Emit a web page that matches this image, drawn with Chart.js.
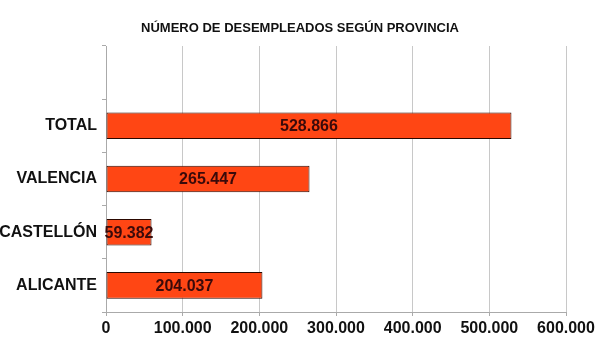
<!DOCTYPE html>
<html><head><meta charset="utf-8">
<script src="https://cdn.jsdelivr.net/npm/chart.js@4/dist/chart.umd.min.js"></script>
<style>html,body{margin:0;padding:0;background:#fff}#wrap{width:600px;height:356px}</style>
</head><body><div id="wrap"><canvas id="c" width="600" height="356"></canvas></div>
<script>
const titleText = 'NÚMERO DE DESEMPLEADOS SEGÚN PROVINCIA';
const categories = ['', 'TOTAL', 'VALENCIA', 'CASTELLÓN', 'ALICANTE'];
const desempleados = [null, 528866, 265447, 59382, 204037];
const xTicks = [0, 100000, 200000, 300000, 400000, 500000, 600000];

function fmt(v){ return String(v).replace(/\B(?=(\d{3})+(?!\d))/g, '.'); }

const FONT = '"Liberation Sans", Arial, sans-serif';

const labelPlugin = {
  id: 'labels',
  afterDatasetsDraw(chart){
    const ctx = chart.ctx;
    const meta = chart.getDatasetMeta(0);
    ctx.save();
    ctx.font = 'bold 16px ' + FONT;
    ctx.fillStyle = '#3a0a0a';
    ctx.textAlign = 'center';
    ctx.textBaseline = 'middle';
    meta.data.forEach((bar, i) => {
      const v = desempleados[i];
      if (v == null) return;
      ctx.fillText(fmt(v), (bar.base + bar.x) / 2, bar.y + 1);
    });
    ctx.restore();
  },
  afterDraw(chart){
    const ctx = chart.ctx;
    ctx.save();
    ctx.font = 'bold 13px ' + FONT;
    ctx.fillStyle = '#111';
    ctx.textAlign = 'center';
    ctx.textBaseline = 'middle';
    ctx.fillText(titleText, 300, 28);
    ctx.restore();
  }
};

new Chart(document.getElementById('c'), {
  type: 'bar',
  data: {
    labels: categories,
    datasets: [{
      data: desempleados,
      backgroundColor: '#ff4614',
      borderColor: '#2a0800',
      borderWidth: 1,
      borderSkipped: false,
      categoryPercentage: 1,
      barPercentage: 0.5
    }]
  },
  options: {
    indexAxis: 'y',
    responsive: false,
    animation: false,
    layout: { padding: { top: 46, right: 34, left: 0, bottom: 0 } },
    plugins: { legend: { display: false }, tooltip: { enabled: false }, title: { display: false } },
    scales: {
      x: {
        min: 0, max: 600000,
        afterBuildTicks(s){ s.ticks = xTicks.map(v => ({ value: v })); },
        afterFit(s){ s.height = 44; },
        grid: { color: '#c8c8c8', tickLength: 4, tickColor: '#aaa' },
        border: { color: '#aaa' },
        ticks: { callback: v => fmt(v), color: '#111', padding: 3, maxRotation: 0, autoSkip: false,
                 font: { family: FONT, size: 16, weight: 'bold' } }
      },
      y: {
        afterFit(s){ s.width = 106; },
        grid: { drawOnChartArea: false, tickLength: 4, color: '#aaa', offset: true },
        border: { color: '#aaa' },
        ticks: { color: '#111', padding: 5, font: { family: FONT, size: 16, weight: 'bold' } }
      }
    }
  },
  plugins: [labelPlugin]
});
</script></body></html>
